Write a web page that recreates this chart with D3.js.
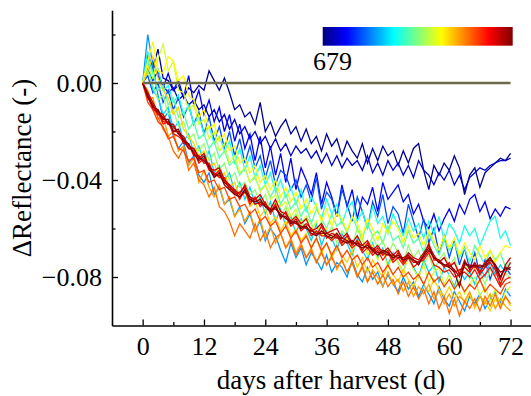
<!DOCTYPE html>
<html>
<head>
<meta charset="utf-8">
<script src="https://cdn.jsdelivr.net/npm/d3@7"></script>
</head>
<body style="margin:0">
<svg id="t" width="531" height="396"></svg>
<script>
const days = [0,1,2,3,4,5,6,7,8,9,10,11,12,13,14,15,16,17,18,19,20,21,22,23,24,25,26,27,28,29,30,31,32,33,34,35,36,37,38,39,40,41,42,43,44,45,46,47,48,49,50,51,52,53,54,55,56,57,58,59,60,61,62,63,64,65,66,67,68,69,70,71,72];

// delta reflectance of each sample, in units of 0.001
const navy1 = [0,12,6,14,2,1,-3,-1,-6,-2,-4,-1,-3,5,1,-3,2,-4,-11,-9,-14,-12,-17,-8,-20,-16,-22,-18,-15,-21,-18,-24,-19,-25,-22,-28,-21,-26,-23,-30,-24,-28,-31,-25,-33,-27,-32,-26,-30,-28,-34,-28,-33,-27,-25,-36,-44,-34,-38,-33,-36,-30,-35,-46,-38,-35,-43,-37,-35,-33,-31,-32,-29];
const navy2 = [0,5,9,3,-1,-4,-2,-7,-5,-9,-7,-11,-9,-14,-11,-16,-13,-19,-15,-21,-18,-23,-20,-25,-22,-27,-23,-28,-25,-30,-26,-29,-27,-31,-28,-33,-29,-34,-30,-35,-31,-34,-32,-36,-30,-37,-33,-38,-32,-36,-33,-38,-34,-39,-32,-36,-38,-42,-37,-40,-36,-42,-38,-44,-39,-37,-35,-36,-34,-33,-32,-32,-31];
const blue1 = [0,6,1,5,-2,4,-3,1,-6,3,-9,-3,-13,-7,-16,-10,-20,-13,-24,-17,-27,-21,-32,-22,-35,-26,-38,-29,-41,-31,-44,-35,-40,-46,-37,-50,-41,-47,-55,-42,-51,-44,-56,-47,-50,-43,-53,-41,-48,-45,-42,-49,-46,-54,-50,-57,-60,-54,-61,-56,-52,-57,-50,-54,-48,-46,-53,-49,-56,-52,-55,-51,-52];
const blue2 = [0,3,-4,0,-8,-3,-11,-6,-14,-9,-17,-12,-21,-14,-24,-18,-27,-20,-30,-23,-33,-26,-35,-30,-39,-32,-42,-36,-38,-44,-40,-47,-42,-49,-39,-52,-45,-48,-55,-44,-50,-57,-47,-53,-60,-49,-55,-46,-58,-51,-54,-62,-50,-57,-64,-56,-66,-60,-70,-63,-72,-65,-75,-68,-77,-70,-79,-73,-81,-75,-80,-76,-79];
const azure = [0,20,7,-5,-15,-12,-22,-27,-24,-33,-30,-38,-41,-37,-46,-43,-50,-48,-55,-51,-58,-54,-61,-57,-65,-60,-63,-69,-74,-66,-72,-68,-75,-70,-73,-77,-71,-78,-74,-76,-80,-73,-79,-82,-76,-81,-78,-84,-79,-83,-86,-80,-85,-82,-88,-83,-87,-91,-84,-89,-92,-86,-90,-94,-88,-91,-87,-93,-89,-86,-91,-85,-88];
const deepSky = [0,10,-3,-6,-13,-10,-19,-16,-24,-21,-29,-26,-33,-28,-37,-34,-40,-37,-45,-41,-48,-43,-50,-47,-54,-49,-57,-52,-59,-55,-62,-56,-60,-65,-58,-67,-61,-64,-69,-62,-66,-71,-64,-69,-73,-66,-72,-68,-75,-70,-74,-78,-71,-76,-80,-73,-78,-75,-82,-76,-79,-84,-77,-81,-78,-83,-76,-80,-74,-79,-75,-78,-76];
const cyan = [0,13,4,6,-3,-1,-8,-5,-13,-9,-17,-14,-21,-18,-25,-22,-28,-24,-33,-27,-36,-30,-39,-34,-42,-37,-45,-40,-47,-43,-50,-44,-53,-47,-51,-56,-48,-54,-50,-58,-52,-49,-57,-53,-60,-51,-58,-55,-62,-54,-59,-63,-56,-61,-58,-64,-57,-62,-55,-65,-58,-61,-66,-59,-63,-60,-67,-62,-57,-55,-64,-61,-67];
const aqua = [0,9,4,-3,-1,-9,-6,-14,-12,-19,-16,-23,-21,-27,-24,-31,-28,-34,-32,-38,-35,-41,-39,-44,-42,-47,-43,-50,-46,-52,-49,-55,-51,-58,-52,-56,-60,-54,-59,-57,-62,-55,-60,-64,-58,-63,-61,-66,-59,-65,-63,-68,-61,-66,-64,-70,-62,-67,-71,-65,-69,-66,-72,-68,-74,-67,-71,-75,-69,-73,-70,-76,-74];
const green = [0,5,-1,-7,-5,-13,-11,-18,-16,-23,-21,-28,-25,-32,-29,-36,-33,-40,-37,-43,-41,-46,-44,-50,-46,-53,-49,-55,-51,-57,-54,-60,-55,-58,-62,-57,-64,-59,-66,-61,-63,-67,-60,-65,-69,-63,-68,-65,-71,-66,-70,-74,-67,-72,-69,-75,-71,-77,-73,-70,-76,-72,-79,-74,-81,-76,-78,-83,-77,-80,-84,-78,-81];
const yellowGreen = [0,7,2,10,16,5,9,-3,-4,-11,-9,-17,-15,-23,-20,-28,-25,-33,-30,-37,-35,-41,-38,-45,-42,-48,-46,-51,-49,-55,-52,-58,-55,-61,-57,-63,-60,-65,-62,-67,-64,-69,-66,-63,-71,-67,-73,-69,-76,-71,-74,-78,-72,-77,-80,-75,-82,-78,-76,-83,-79,-85,-81,-87,-83,-80,-88,-84,-90,-85,-92,-86,-84];
const yellowUp = [0,9,17,5,4,11,9,1,3,-5,-7,-14,-11,-19,-17,-24,-21,-28,-26,-33,-31,-37,-34,-41,-38,-44,-40,-47,-43,-49,-45,-52,-48,-54,-50,-57,-52,-59,-54,-56,-61,-55,-58,-63,-56,-60,-65,-58,-62,-57,-60,-66,-59,-64,-62,-67,-61,-65,-69,-63,-68,-64,-71,-66,-70,-73,-67,-72,-69,-74,-70,-67,-68];
const yellowLow = [0,5,11,2,-3,-6,-13,-10,-19,-22,-25,-30,-28,-35,-33,-39,-37,-43,-41,-47,-45,-51,-49,-55,-52,-58,-55,-61,-57,-63,-60,-65,-62,-68,-64,-70,-66,-72,-68,-71,-74,-69,-76,-72,-78,-73,-77,-80,-75,-79,-82,-77,-81,-84,-79,-83,-86,-81,-85,-88,-84,-89,-86,-91,-87,-93,-88,-90,-94,-89,-92,-88,-92];
const orangeB = [0,-7,-6,-15,-13,-22,-20,-28,-26,-34,-31,-41,-36,-43,-47,-42,-50,-47,-55,-52,-57,-53,-61,-56,-64,-59,-66,-62,-68,-64,-70,-66,-72,-68,-74,-69,-75,-71,-77,-73,-78,-74,-80,-75,-82,-77,-80,-84,-78,-83,-81,-86,-82,-88,-84,-87,-83,-89,-86,-91,-87,-92,-88,-90,-86,-92,-88,-91,-87,-93,-89,-92,-94];
const orangeA = [0,-3,-10,-14,-19,-22,-28,-31,-27,-36,-33,-40,-42,-47,-43,-51,-53,-57,-63,-58,-61,-64,-58,-65,-61,-68,-64,-62,-68,-65,-71,-67,-72,-69,-74,-70,-75,-72,-76,-73,-78,-74,-80,-76,-82,-78,-83,-79,-84,-81,-87,-82,-88,-84,-89,-85,-91,-86,-93,-88,-95,-89,-96,-90,-93,-89,-94,-88,-92,-87,-93,-88,-91];
const darkOrange = [0,-8,-11,-16,-18,-23,-22,-27,-28,-32,-31,-37,-36,-41,-40,-44,-43,-48,-47,-51,-50,-54,-52,-57,-55,-59,-57,-62,-59,-64,-61,-66,-63,-68,-64,-69,-66,-71,-67,-72,-69,-73,-71,-75,-72,-76,-74,-78,-75,-79,-76,-80,-78,-81,-79,-83,-78,-82,-80,-84,-81,-85,-82,-86,-83,-85,-81,-86,-83,-85,-87,-83,-82];
const red1 = [0,-5,-11,-12,-17,-16,-21,-22,-24,-27,-28,-33,-31,-36,-37,-39,-39,-44,-44,-48,-44,-50,-47,-51,-49,-54,-51,-55,-55,-59,-57,-61,-59,-63,-61,-63,-63,-65,-63,-67,-65,-68,-66,-70,-68,-71,-69,-73,-70,-74,-72,-75,-72,-76,-74,-73,-70,-75,-76,-78,-77,-80,-79,-78,-80,-77,-81,-79,-76,-80,-84,-81,-80];
const red2 = [0,-6,-10,-11,-16,-16,-20,-20,-25,-25,-30,-30,-33,-33,-38,-36,-41,-42,-46,-45,-43,-49,-48,-50,-50,-53,-50,-56,-53,-58,-56,-60,-58,-60,-63,-59,-64,-62,-63,-66,-63,-67,-65,-69,-66,-70,-68,-71,-69,-73,-70,-74,-71,-74,-74,-71,-66,-73,-73,-76,-74,-78,-77,-76,-78,-75,-79,-76,-74,-77,-83,-78,-74];
const red3 = [0,-4,-8,-12,-13,-17,-17,-21,-22,-26,-27,-31,-29,-35,-36,-35,-40,-42,-44,-46,-42,-47,-48,-46,-50,-52,-48,-53,-54,-57,-55,-58,-56,-61,-60,-58,-62,-61,-60,-64,-62,-66,-63,-67,-65,-69,-67,-70,-68,-71,-69,-73,-70,-72,-73,-70,-67,-71,-74,-72,-76,-74,-79,-73,-77,-74,-78,-74,-72,-76,-81,-75,-72];
const darkRed = [0,-6,-9,-13,-14,-17,-18,-21,-23,-27,-27,-31,-32,-34,-38,-38,-41,-43,-45,-47,-45,-47,-50,-49,-51,-52,-52,-54,-56,-57,-58,-59,-60,-61,-62,-62,-62,-63,-64,-64,-65,-66,-66,-67,-68,-68,-70,-70,-71,-71,-72,-72,-71,-73,-74,-72,-69,-72,-73,-75,-75,-77,-80,-75,-75,-76,-75,-76,-73,-75,-78,-77,-76];
const maroon = [0,-5,-10,-11,-15,-15,-20,-19,-24,-25,-29,-32,-30,-35,-39,-37,-42,-44,-46,-47,-44,-48,-49,-48,-51,-53,-51,-55,-55,-58,-57,-60,-59,-62,-63,-61,-63,-64,-62,-65,-66,-65,-67,-68,-67,-69,-71,-69,-70,-72,-71,-73,-72,-73,-75,-71,-68,-72,-74,-75,-76,-78,-84,-74,-76,-75,-76,-75,-72,-75,-80,-76,-77];

// position of each sample on the colour bar (0 = blue end, 1 = dark red end)
const barPos = [0.02, 0.07, 0.12, 0.2, 0.27, 0.33, 0.4, 0.46, 0.52, 0.58, 0.63, 0.67, 0.72, 0.77, 0.81, 0.86, 0.89, 0.92, 0.96, 1.0];
const allSeries = [navy1, navy2, blue1, blue2, azure, deepSky, cyan, aqua, green, yellowGreen, yellowUp, yellowLow, orangeB, orangeA, darkOrange, red1, red2, red3, darkRed, maroon];

const xTicks = [0, 12, 24, 36, 48, 60, 72];
const xMinor = [6, 18, 30, 42, 54, 66];
const yTicks = [0, -0.04, -0.08];
const yMinor = [0.02, -0.02, -0.06];
const barLabel = "679";

const svg = d3.select("#t");

const x = d3.scaleLinear().domain([-6, 76]).range([112, 531]);
const y = d3.scaleLinear().domain([-0.1, 0.03]).range([325.5, 10.25]);

const jet = d3.scaleLinear()
  .domain([0, 0.125, 0.375, 0.625, 0.875, 1])
  .range(["#00007f", "#0000ff", "#00ffff", "#ffff00", "#ff0000", "#7f0000"]);

const line = d3.line()
  .x((v, i) => x(days[i]))
  .y(v => y(v / 1000));

svg.append("g")
  .selectAll("path")
  .data(allSeries)
  .join("path")
  .attr("d", line)
  .attr("fill", "none")
  .attr("stroke", (s, i) => jet(barPos[i]))
  .attr("stroke-width", 1.3);

// reference line at zero
svg.append("line")
  .attr("x1", x(days[0])).attr("x2", x(days[days.length - 1]))
  .attr("y1", y(0)).attr("y2", y(0))
  .attr("stroke", "#6b6b4b")
  .attr("stroke-width", 2.5);

// axes: major ticks with labels, minor ticks without; all ticks point inward
const bottom = y.range()[0];
const left = x.range()[0];
const xAxisG = svg.append("g")
  .attr("transform", "translate(0," + bottom + ")")
  .call(d3.axisBottom(x).tickValues(xTicks).tickSizeInner(-6).tickSizeOuter(0).tickPadding(11.5));
svg.append("g")
  .attr("transform", "translate(0," + bottom + ")")
  .call(d3.axisBottom(x).tickValues(xMinor).tickSize(-3.5).tickFormat(""))
  .call(g => g.select(".domain").remove());
const yAxisG = svg.append("g")
  .attr("transform", "translate(" + left + ",0)")
  .call(d3.axisLeft(y).tickValues(yTicks).tickSizeInner(-6).tickSizeOuter(0).tickPadding(10).tickFormat(d3.format(".2f")));
svg.append("g")
  .attr("transform", "translate(" + left + ",0)")
  .call(d3.axisLeft(y).tickValues(yMinor).tickSize(-3.5).tickFormat(""))
  .call(g => g.select(".domain").remove());

svg.selectAll("g").attr("font-family", null).attr("font-size", null);
svg.selectAll(".domain").attr("stroke", "#000").attr("stroke-width", 1.6);
svg.selectAll(".tick line").attr("stroke", "#000").attr("stroke-width", 1.3);
svg.selectAll(".tick text")
  .attr("font-size", 26)
  .attr("font-family", "Liberation Serif")
  .attr("fill", "#000");

// axis titles
svg.append("text")
  .attr("x", 331).attr("y", 389)
  .attr("text-anchor", "middle")
  .attr("font-size", 27)
  .attr("font-family", "Liberation Serif")
  .text("days after harvest (d)");

svg.append("text")
  .attr("transform", "translate(31,168) rotate(-90)")
  .attr("text-anchor", "middle")
  .attr("font-size", 27)
  .attr("font-family", "Liberation Serif")
  .text("ΔReflectance (-)");

// colour bar
const grad = svg.append("defs").append("linearGradient").attr("id", "jetbar");
grad.selectAll("stop")
  .data(jet.domain())
  .join("stop")
  .attr("offset", d => d * 100 + "%")
  .attr("stop-color", d => jet(d));

svg.append("rect")
  .attr("x", 322.7).attr("y", 27)
  .attr("width", 190).attr("height", 18.7)
  .attr("fill", "url(#jetbar)");

svg.append("text")
  .attr("x", 313).attr("y", 70)
  .attr("font-size", 26)
  .attr("font-family", "Liberation Serif")
  .text(barLabel);
</script>
</body>
</html>
